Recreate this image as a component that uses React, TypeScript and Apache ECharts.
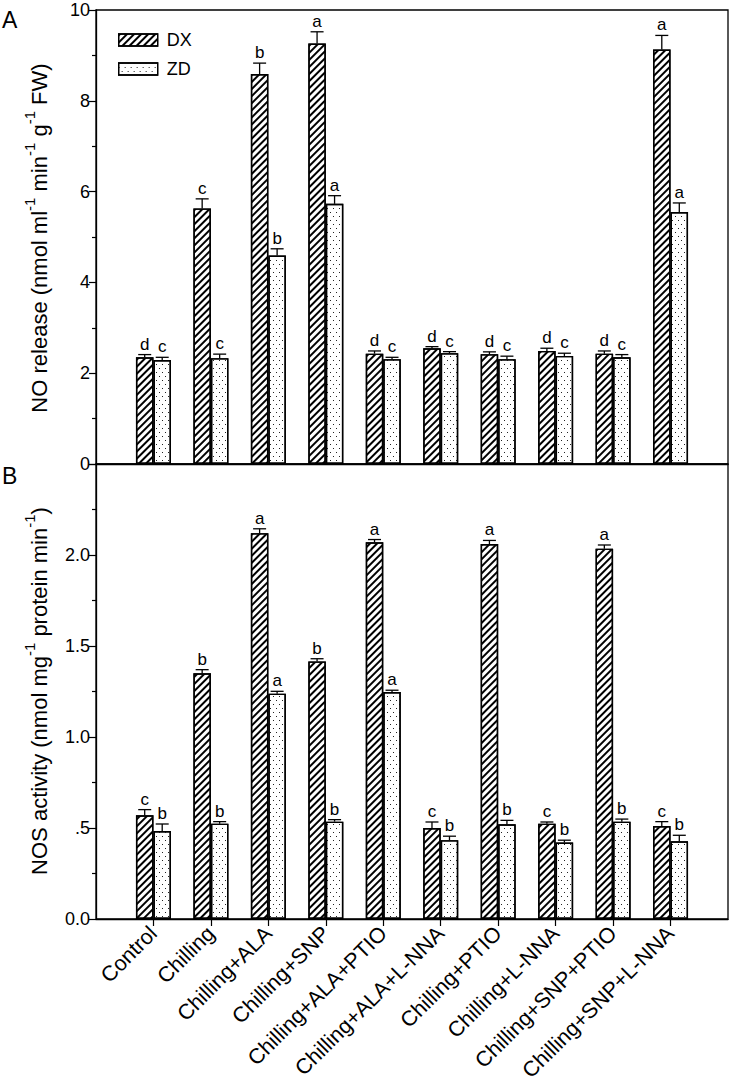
import React, { useEffect, useRef } from "react";
import * as echarts from "echarts";

const categories = [
  "Control",
  "Chilling",
  "Chilling+ALA",
  "Chilling+SNP",
  "Chilling+ALA+PTIO",
  "Chilling+ALA+L-NNA",
  "Chilling+PTIO",
  "Chilling+L-NNA",
  "Chilling+SNP+PTIO",
  "Chilling+SNP+L-NNA",
];
const seriesNames = ["DX", "ZD"];

// Panel A: NO release
const noDX = [2.35, 5.63, 8.59, 9.26, 2.43, 2.55, 2.42, 2.49, 2.43, 9.13];
const noDXErr = [0.06, 0.21, 0.24, 0.26, 0.06, 0.035, 0.05, 0.06, 0.06, 0.31];
const noZD = [2.29, 2.33, 4.59, 5.73, 2.31, 2.44, 2.31, 2.38, 2.35, 5.55];
const noZDErr = [0.06, 0.09, 0.15, 0.18, 0.04, 0.035, 0.065, 0.06, 0.06, 0.2];
const noDXLetters = ["d", "c", "b", "a", "d", "d", "d", "d", "d", "a"];
const noZDLetters = ["c", "c", "b", "a", "c", "c", "c", "c", "c", "a"];

// Panel B: NOS activity
const nosDX = [0.57, 1.35, 2.12, 1.415, 2.07, 0.5, 2.06, 0.524, 2.035, 0.511];
const nosDXErr = [0.031, 0.02, 0.024, 0.015, 0.015, 0.033, 0.02, 0.009, 0.02, 0.024];
const nosZD = [0.483, 0.524, 1.238, 0.535, 1.247, 0.433, 0.52, 0.42, 0.535, 0.427];
const nosZDErr = [0.039, 0.011, 0.013, 0.011, 0.01, 0.022, 0.022, 0.013, 0.014, 0.033];
const nosDXLetters = ["c", "b", "a", "b", "a", "c", "a", "c", "a", "c"];
const nosZDLetters = ["b", "b", "a", "b", "a", "b", "b", "b", "b", "b"];

const yTicksA = { min: 0, max: 10, interval: 2 };
const yTicksB = { min: 0, max: 2.5, interval: 0.5 };

const FONT = "'Liberation Sans', Arial, sans-serif";
const BAR_W = 17.5;

const hatchDecal = {
  symbol: "rect",
  symbolSize: 1,
  dashArrayX: [1, 0],
  dashArrayY: [1.2, 2.3],
  rotation: -Math.PI / 4,
  color: "#000",
};
const dotDecal = {
  symbol: "rect",
  symbolSize: 1,
  dashArrayX: [
    [1, 5],
    [0, 3, 1, 2],
  ],
  dashArrayY: [1, 3],
  rotation: 0,
  color: "#222",
};

const xCats = [" ", ...categories, "  "];
const pad = (arr: number[]) => [null, ...arr, null];

export default function App() {
  const ref = useRef<HTMLDivElement>(null);
  useEffect(() => {
    if (!ref.current) return;
    const chart = echarts.init(ref.current, undefined, { renderer: "svg" });

    const errSeries = (
      name: string,
      gridIdx: number,
      vals: number[],
      errs: number[],
      letters: string[],
      offset: number
    ) => ({
      name,
      type: "custom",
      xAxisIndex: gridIdx,
      yAxisIndex: gridIdx,
      z: 5,
      silent: true,
      clip: false,
      data: vals.map((v, i) => [i + 1, v, errs[i], i]),
      renderItem: (params: any, api: any) => {
        const x = api.value(0);
        const v = api.value(1);
        const e = api.value(2);
        const i = api.value(3);
        const base = api.coord([x, v]);
        const top = api.coord([x, v + e]);
        const cx = base[0] + offset;
        const st = { stroke: "#000", lineWidth: 1.3 };
        return {
          type: "group",
          children: [
            { type: "line", shape: { x1: cx, y1: base[1], x2: cx, y2: top[1] }, style: st },
            { type: "line", shape: { x1: cx - 6.5, y1: top[1], x2: cx + 6.5, y2: top[1] }, style: st },
            {
              type: "text",
              x: cx,
              y: top[1] - 2,
              style: {
                text: letters[i],
                align: "center",
                verticalAlign: "bottom",
                font: `17px ${FONT}`,
                fill: "#000",
              },
            },
          ],
        };
      },
    });

    const barSeries = (name: string, gridIdx: number, vals: number[], decal: any) => ({
      name,
      type: "bar",
      xAxisIndex: gridIdx,
      yAxisIndex: gridIdx,
      barWidth: BAR_W,
      barGap: "0%",
      data: pad(vals),
      itemStyle: { color: "#fff", borderColor: "#000", borderWidth: 1.4, decal },
    });

    const yAxisCommon = (gridIndex: number, lim: any, fmt: (v: number) => string) => ({
      type: "value",
      gridIndex,
      min: lim.min,
      max: lim.max,
      interval: lim.interval,
      axisLine: { show: true, lineStyle: { color: "#000", width: 1.3 } },
      axisTick: { show: true, inside: false, length: 7, lineStyle: { color: "#000", width: 1.2 } },
      minorTick: { show: true, splitNumber: 2, length: 4, lineStyle: { color: "#000", width: 1.2 } },
      splitLine: { show: false },
      axisLabel: { color: "#000", fontSize: 18, fontFamily: FONT, margin: 6, formatter: fmt },
    });

    const titleRich = {
      n: { fontSize: 22, fontFamily: FONT, fill: "#000", lineHeight: 28, verticalAlign: "bottom" },
      s: { fontSize: 15, fontFamily: FONT, fill: "#000", lineHeight: 28, verticalAlign: "top" },
    };

    const gridCommon = {
      left: 96,
      right: 3,
      show: true,
      borderColor: "#000",
      borderWidth: 1.3,
      backgroundColor: "transparent",
      containLabel: false,
      outerBoundsMode: "none",
    };

    const option: any = {
      animation: false,
      backgroundColor: "#fff",
      grid: [
        { ...gridCommon, top: 10, height: 454 },
        { ...gridCommon, top: 464, height: 455 },
      ],
      legend: {
        data: seriesNames,
        orient: "vertical",
        left: 118,
        top: 31,
        padding: 0,
        itemWidth: 39,
        itemHeight: 12,
        itemGap: 11,
        icon: "rect",
        selectedMode: false,
        textStyle: { color: "#000", fontSize: 18, fontFamily: FONT, padding: [0, 0, 0, 4] },
        itemStyle: { borderColor: "#000", borderWidth: 1.3 },
      },
      xAxis: [0, 1].map((g) => ({
        type: "category",
        gridIndex: g,
        data: xCats,
        boundaryGap: false,
        axisLine: { show: true, lineStyle: { color: "#000", width: 1.3 } },
        axisTick:
          g === 1
            ? {
                show: true,
                inside: false,
                length: 7,
                interval: (idx: number, val: string) => val.trim() !== "",
                lineStyle: { color: "#000", width: 1.2 },
              }
            : { show: false },
        axisLabel:
          g === 1
            ? { show: true, interval: 0, rotate: 45, margin: 11, color: "#000", fontSize: 21.5, fontFamily: FONT }
            : { show: false },
        splitLine: { show: false },
      })),
      yAxis: [
        yAxisCommon(0, yTicksA, (v: number) => String(v)),
        yAxisCommon(1, yTicksB, (v: number) => {
          if (v >= 2.5) return "";
          if (v === 0) return "0.0";
          if (v === 0.5) return ".5";
          return v.toFixed(1);
        }),
      ],
      graphic: [
        { type: "text", x: 2, y: 8, style: { text: "A", font: `23px ${FONT}`, fill: "#000" } },
        { type: "text", x: 2, y: 464, style: { text: "B", font: `23px ${FONT}`, fill: "#000" } },
        {
          type: "text",
          x: 36,
          y: 238,
          rotation: Math.PI / 2,
          style: {
            text: "{n|NO release (nmol ml}{s|-1}{n| min}{s|-1}{n| g}{s|-1}{n| FW)}",
            align: "center",
            verticalAlign: "middle",
            rich: titleRich,
          },
        },
        {
          type: "text",
          x: 36,
          y: 691,
          rotation: Math.PI / 2,
          style: {
            text: "{n|NOS activity (nmol mg}{s|-1}{n| protein min}{s|-1}{n|)}",
            align: "center",
            verticalAlign: "middle",
            rich: titleRich,
          },
        },
      ],
      series: [
        barSeries("DX", 0, noDX, hatchDecal),
        barSeries("ZD", 0, noZD, dotDecal),
        barSeries("DX", 1, nosDX, hatchDecal),
        barSeries("ZD", 1, nosZD, dotDecal),
        errSeries("errA1", 0, noDX, noDXErr, noDXLetters, -BAR_W / 2),
        errSeries("errA2", 0, noZD, noZDErr, noZDLetters, BAR_W / 2),
        errSeries("errB1", 1, nosDX, nosDXErr, nosDXLetters, -BAR_W / 2),
        errSeries("errB2", 1, nosZD, nosZDErr, nosZDLetters, BAR_W / 2),
      ],
    };
    chart.setOption(option);
    return () => chart.dispose();
  }, []);
  return (
    <div
      ref={ref}
      style={{ position: "absolute", left: 0, top: 0, width: 731, height: 1085, background: "#fff" }}
    />
  );
}
